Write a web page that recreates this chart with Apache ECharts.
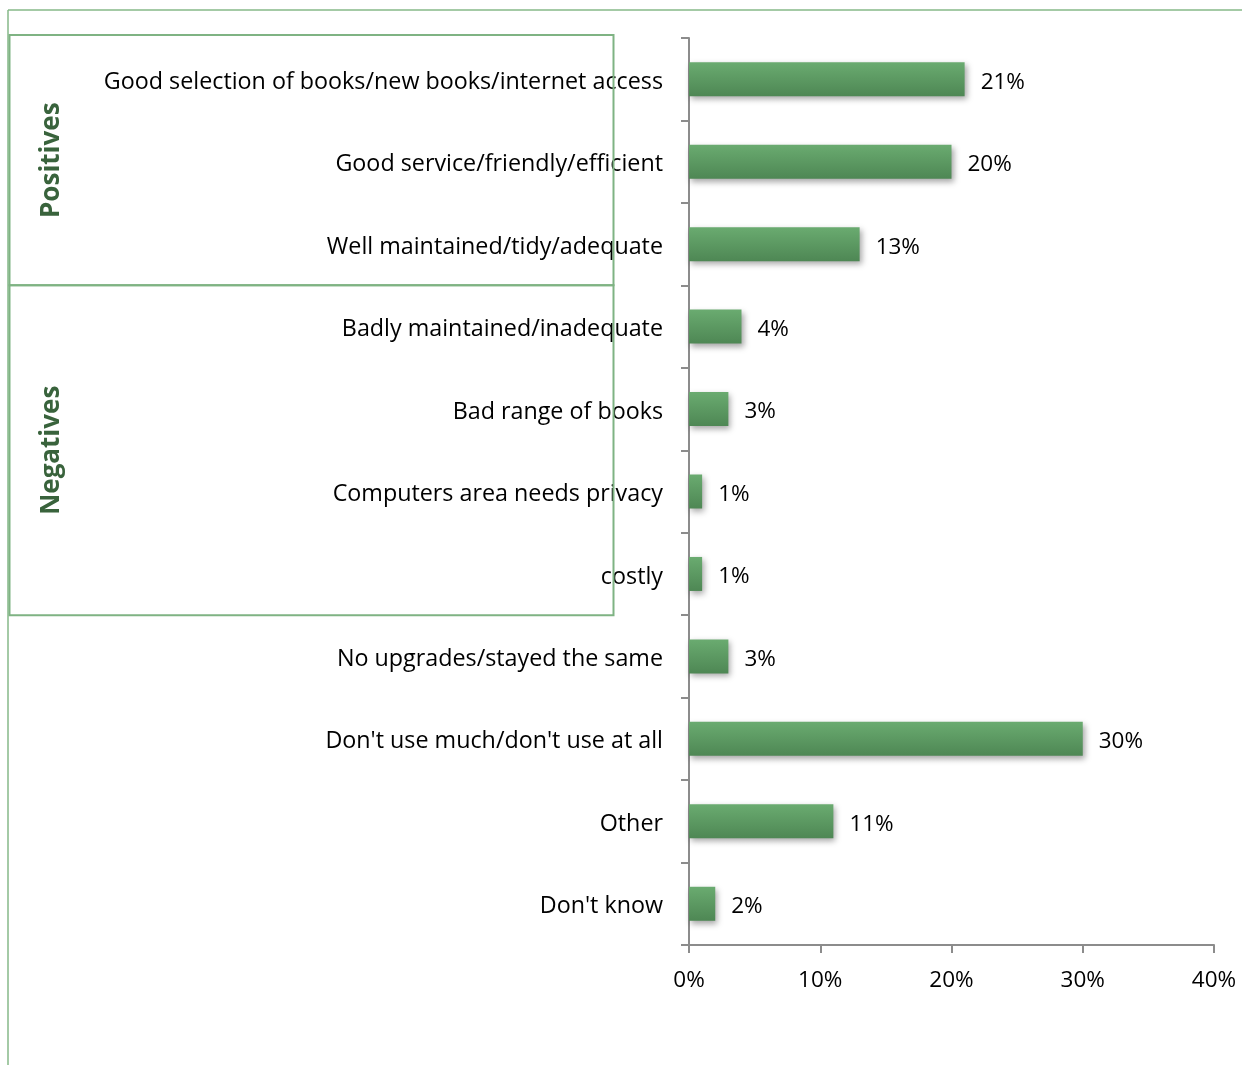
<!DOCTYPE html>
<html>
<head>
<meta charset="utf-8">
<style>
  html, body { margin: 0; padding: 0; background: #ffffff; }
  #chart { width: 1242px; height: 1065px; }
</style>
<script src="https://cdn.jsdelivr.net/npm/echarts@6/dist/echarts.min.js"></script>
</head>
<body>
<div id="chart"></div>
<script>
// Survey responses, listed top to bottom
const categories = [
  'Good selection of books/new books/internet access',
  'Good service/friendly/efficient',
  'Well maintained/tidy/adequate',
  'Badly maintained/inadequate',
  'Bad range of books',
  'Computers area needs privacy',
  'costly',
  'No upgrades/stayed the same',
  "Don't use much/don't use at all",
  'Other',
  "Don't know"
];
const shares = [21, 20, 13, 4, 3, 1, 1, 3, 30, 11, 2];
const xTicks = [0, 10, 20, 30, 40];

// Grouping brackets: label, first and last category index
const groups = [
  { name: 'Positives', from: 0, to: 2 },
  { name: 'Negatives', from: 3, to: 6 }
];

const FONT = '"Open Sans", Lato, sans-serif';
const chart = echarts.init(document.getElementById('chart'));

const barColor = new echarts.graphic.LinearGradient(0, 0, 0, 1, [
  { offset: 0, color: '#6aab70' },
  { offset: 1, color: '#4e8754' }
]);

// Text sits slightly below the band centre
const lowered = size => ({ t: { fontFamily: FONT, fontSize: size, color: '#000', padding: [6, 0, 0, 0] } });

chart.setOption({
  animation: false,
  backgroundColor: '#ffffff',
  grid: { left: 689, right: 28, top: 38, bottom: 120 },
  xAxis: {
    type: 'value',
    min: 0,
    max: 40,
    interval: 10,
    axisLine: { show: true, lineStyle: { color: '#8c8c8c', width: 2 } },
    axisTick: { show: true, length: 8, lineStyle: { color: '#8c8c8c', width: 2 } },
    splitLine: { show: false },
    axisLabel: {
      margin: 24,
      color: '#000',
      fontFamily: FONT,
      fontSize: 22.5,
      formatter: v => xTicks.includes(v) ? v + '%' : ''
    }
  },
  yAxis: {
    type: 'category',
    data: categories,
    inverse: true,
    axisLine: { show: true, lineStyle: { color: '#8c8c8c', width: 2 } },
    axisTick: { show: true, length: 8, lineStyle: { color: '#8c8c8c', width: 2 } },
    axisLabel: {
      margin: 26,
      color: '#000',
      fontFamily: FONT,
      fontSize: 23.3,
      formatter: v => '{t|' + v + '}',
      rich: lowered(23.3)
    }
  },
  series: [{
    type: 'bar',
    data: shares,
    barWidth: 34,
    itemStyle: {
      color: barColor,
      shadowColor: 'rgba(0,0,0,0.35)',
      shadowBlur: 6,
      shadowOffsetX: 2,
      shadowOffsetY: 3
    },
    label: {
      show: true,
      position: 'right',
      distance: 16,
      color: '#000',
      fontFamily: FONT,
      fontSize: 22.5,
      formatter: p => '{t|' + p.value + '%}',
      rich: lowered(22.5)
    }
  }]
});

// Group boxes follow the category bands of the y axis
function bandEdge(index, side) {
  const c = chart.convertToPixel({ yAxisIndex: 0 }, categories[index]);
  const band = chart.getModel().getComponent('yAxis', 0).axis.getBandWidth();
  return side === 'top' ? c - band / 2 : c + band / 2;
}

const frameColor = '#86b889';
const elements = [
  { type: 'line', shape: { x1: 8, y1: 10, x2: 1242, y2: 10 }, style: { stroke: frameColor, lineWidth: 1.5 }, silent: true },
  { type: 'line', shape: { x1: 8, y1: 10, x2: 8, y2: 1065 }, style: { stroke: frameColor, lineWidth: 1.5 }, silent: true }
];
groups.forEach((g, i) => {
  const top = i === 0 ? bandEdge(g.from, 'top') - 3 : bandEdge(g.from, 'top');
  const bottom = bandEdge(g.to, 'bottom');
  elements.push({
    type: 'rect',
    shape: { x: 9.5, y: top, width: 604, height: bottom - top },
    style: { fill: 'none', stroke: '#7fb383', lineWidth: 2 },
    z: 10,
    silent: true
  });
  elements.push({
    type: 'text',
    x: 52,
    y: (top + bottom) / 2,
    rotation: Math.PI / 2,
    style: {
      text: g.name,
      fill: '#39633c',
      font: 'bold 26px ' + FONT,
      align: 'center',
      verticalAlign: 'middle'
    },
    z: 10,
    silent: true
  });
});
chart.setOption({ graphic: elements });
</script>
</body>
</html>
